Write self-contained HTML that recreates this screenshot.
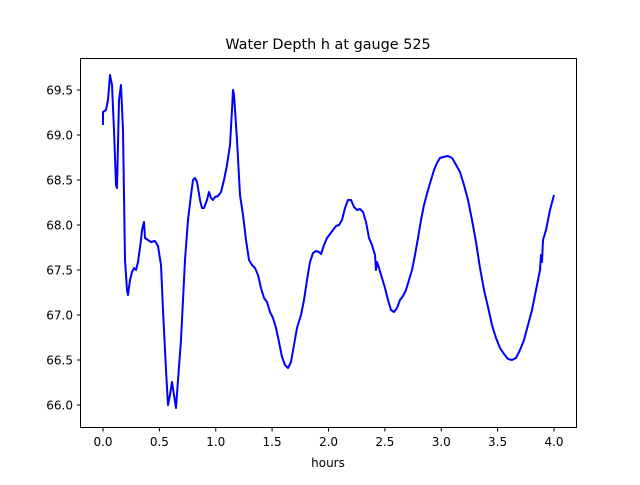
<!DOCTYPE html>
<html><head><meta charset="utf-8"><style>
html,body{margin:0;padding:0;background:#fff;}
text{font-family:"DejaVu Sans","Liberation Sans",sans-serif;fill:#000;}
</style></head><body>
<svg width="640" height="480" xmlns="http://www.w3.org/2000/svg">
<rect width="640" height="480" fill="#fff"/>
<text x="328" y="49" font-size="14.4" text-anchor="middle">Water Depth h at gauge 525</text>
<polyline fill="none" stroke="#0000ff" stroke-width="2" stroke-linejoin="round" points="103,125 103,112 106,110 108,100 110,75 112,85 114,130 116,185 117,188 119,100 121,85 123,130 125,260 127,290 128,295 130,280 132,272 134,268 136,270 138,262 141,240 142,230 144,222 145,238 148,240 151,242 155,241 158,246 161,265 163,310 166,370 168,405 170,395 172,382 174,395 176,408 178,380 181,340 183,300 185,260 188,220 191,195 193,180 195,178 197,182 200,200 202,208 204,208 207,200 209,192 211,198 213,200 215,197 218,196 221,192 224,180 227,165 230,145 232,110 233,90 234,95 237,140 240,195 243,215 246,240 249,260 252,265 255,268 258,275 261,288 264,298 267,302 270,312 273,318 276,328 279,342 282,357 285,365 288,368 291,362 294,345 297,328 301,315 304,300 307,280 310,262 313,253 316,251 319,252 321,254 324,245 327,238 330,234 333,230 336,226 339,225 342,220 345,208 348,200 351,200 354,207 357,210 360,209 363,212 366,222 369,238 372,245 375,255 376,270 377,262 379,268 382,278 385,288 388,300 391,310 394,312 397,308 400,300 403,296 406,290 409,280 412,270 415,255 418,238 421,220 424,205 428,190 431,180 434,170 437,163 440,158 443,157 448,156 452,158 455,163 460,172 464,185 468,200 472,220 476,242 480,268 484,290 488,307 492,325 496,338 500,348 504,354 508,359 512,360 516,358 520,350 524,340 528,325 532,310 536,290 540,270 541,255 542,262 543,240 546,230 550,210 554,195"/>
<rect x="80.5" y="58.5" width="496" height="369" fill="none" stroke="#000" stroke-width="1"/>
<g stroke="#000" stroke-width="1">
<line x1="103" y1="428" x2="103" y2="431.5"/><line x1="159.4" y1="428" x2="159.4" y2="431.5"/><line x1="215.75" y1="428" x2="215.75" y2="431.5"/><line x1="272.1" y1="428" x2="272.1" y2="431.5"/><line x1="328.5" y1="428" x2="328.5" y2="431.5"/><line x1="384.9" y1="428" x2="384.9" y2="431.5"/><line x1="441.25" y1="428" x2="441.25" y2="431.5"/><line x1="497.6" y1="428" x2="497.6" y2="431.5"/><line x1="554" y1="428" x2="554" y2="431.5"/>
<line x1="77" y1="405" x2="80.5" y2="405"/><line x1="77" y1="360" x2="80.5" y2="360"/><line x1="77" y1="315" x2="80.5" y2="315"/><line x1="77" y1="270" x2="80.5" y2="270"/><line x1="77" y1="225" x2="80.5" y2="225"/><line x1="77" y1="180" x2="80.5" y2="180"/><line x1="77" y1="135" x2="80.5" y2="135"/><line x1="77" y1="90" x2="80.5" y2="90"/>
</g>
<g font-size="12" text-anchor="middle">
<text x="103" y="446">0.0</text><text x="159.4" y="446">0.5</text><text x="215.75" y="446">1.0</text><text x="272.1" y="446">1.5</text><text x="328.5" y="446">2.0</text><text x="384.9" y="446">2.5</text><text x="441.25" y="446">3.0</text><text x="497.6" y="446">3.5</text><text x="554" y="446">4.0</text>
</g>
<g font-size="12" text-anchor="end">
<text x="73" y="409.5">66.0</text><text x="73" y="364.5">66.5</text><text x="73" y="319.5">67.0</text><text x="73" y="274.5">67.5</text><text x="73" y="229.5">68.0</text><text x="73" y="184.5">68.5</text><text x="73" y="139.5">69.0</text><text x="73" y="94.5">69.5</text>
</g>
<text x="328" y="467" font-size="12" text-anchor="middle">hours</text>
</svg>
</body></html>
